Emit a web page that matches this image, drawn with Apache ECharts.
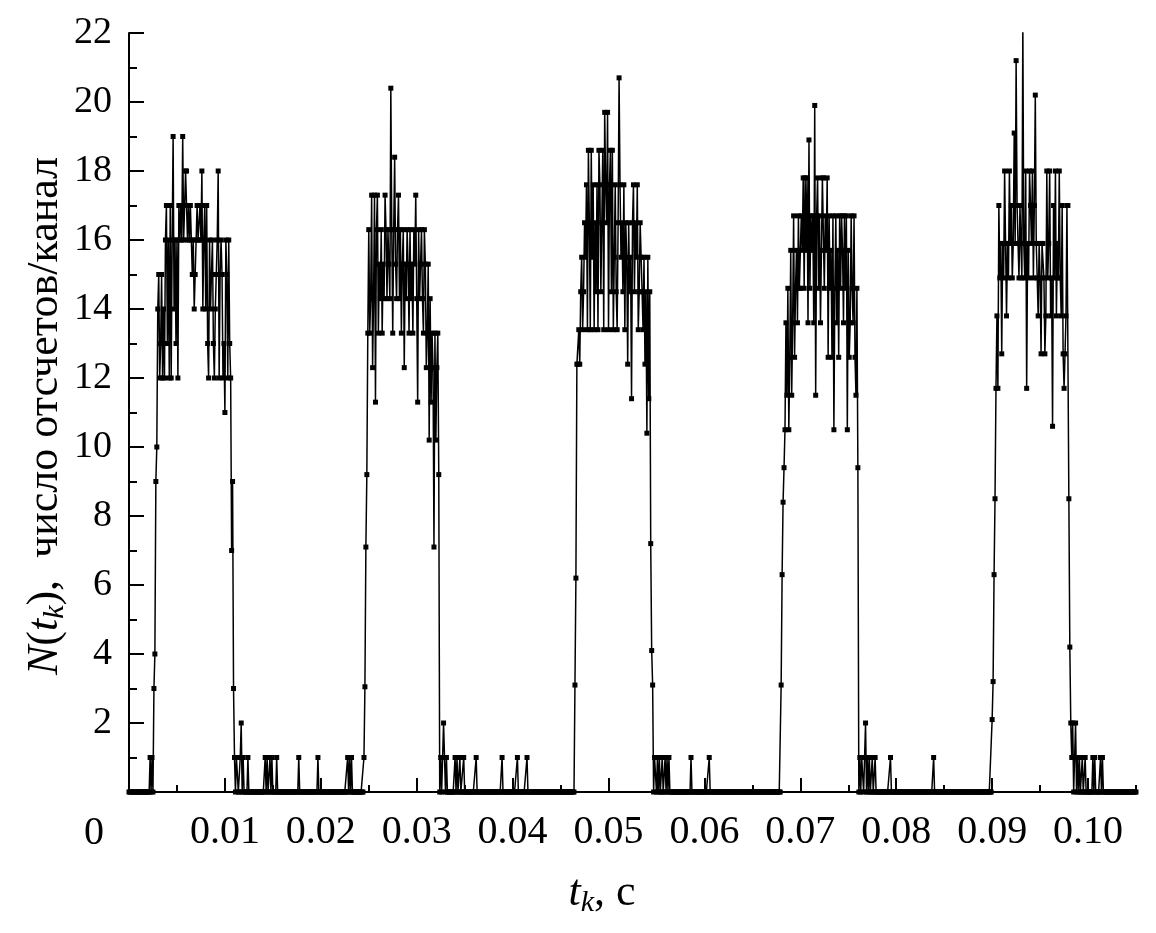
<!DOCTYPE html>
<html>
<head>
<meta charset="utf-8">
<script src="https://cdn.jsdelivr.net/npm/echarts@6/dist/echarts.min.js"></script>
<style>
  html, body { margin: 0; padding: 0; background: #fff; }
  #chart { width: 1156px; height: 933px; }
</style>
</head>
<body>
<div id="chart"></div>
<script>
// sampling step of the counter, s
const dt = 0.0001;
const tMax = 0.105;

// the five bursts, each a run of consecutive samples starting at burstStarts[n]
const burstStarts = [0.0026, 0.0245, 0.0465, 0.0680, 0.0900];

const burst1 = [3, 4, 9, 10, 14, 15, 12, 13, 15, 12, 14, 12, 16, 17, 13,
  16, 12, 17, 12, 16, 19, 14, 16, 13, 16, 12, 17, 16, 17, 16, 19, 16, 17, 18,
  18, 16, 17, 16, 17, 16, 15, 16, 14, 15, 16, 17, 16, 16, 17, 16, 18, 14, 16, 17, 14,
  17, 13, 12, 16, 14, 15, 16, 13, 12, 14, 15, 16, 18, 12, 15,
  16, 15, 12, 13, 11, 16, 15, 12, 16, 13, 12, 7, 9, 3];

const burst2 = [1, 3.05, 7.1, 9.2, 13.3,
  16.3, 13.3, 14.3, 17.3, 12.3, 14.3, 17.3, 11.3, 16.3, 17.3, 13.3, 15.3, 14.3,
  16.3, 13.3, 15.3, 14.3, 17.3, 16.3, 14.3, 16.3, 15.3, 14.3, 20.4, 16.3,
  13.3, 16.3, 18.4, 15.3, 14.3, 16.3, 17.3, 14.3, 16.3, 13.3, 15.3, 16.3,
  12.3, 15.3, 14.3, 16.3, 15.3, 13.3, 16.3, 14.3, 15.3, 13.3, 16.3, 15.3,
  17.3, 14.3, 11.3, 16.3, 14.3, 15.3, 16.3, 14.3, 13.3, 16.3, 15.3, 12.3,
  13.3, 15.3, 10.2, 14.3, 11.3, 13.3, 12.3, 7.1, 13.3, 10.2, 12.3, 13.3, 9.2];

const burst3 = [3.1, 6.2,
  12.4, 12.4, 13.4, 12.4, 14.5, 15.5, 13.4, 14.5, 16.5, 15.5, 17.6, 13.4,
  18.6, 16.5, 13.4, 18.6, 15.5, 17.6, 13.4, 16.5, 14.5, 17.6, 13.4, 18.6,
  17.6, 14.5, 16.5, 18.6, 13.4, 19.7, 17.6, 16.5, 19.7, 13.4, 17.6, 18.6,
  14.5, 18.6, 13.4, 15.5, 17.6, 14.5, 13.4, 16.5, 20.7, 17.6, 15.5, 16.5,
  14.5, 17.6, 13.4, 16.5, 15.5, 12.4, 16.5, 14.5, 15.5, 11.4, 16.5, 17.6,
  14.5, 16.5, 15.5, 17.6, 13.4, 14.5, 16.5, 15.5, 14.5, 13.4, 15.5, 12.4,
  14.5, 10.4, 15.5, 11.4, 14.5, 7.2, 4.1, 3.1];

const burst4 = [3.1, 6.3, 8.4, 9.4, 10.5, 13.6, 11.5, 14.6, 10.5, 12.6,
  15.7, 11.5, 13.6, 16.7, 12.6, 14.6, 15.7, 13.6, 16.7, 14.6,
  14.6, 16.7, 15.7, 17.8, 14.6, 17.8, 15.7, 17.8, 13.6, 18.9, 14.6, 16.7,
  15.7, 16.7, 13.6, 19.9, 11.5, 16.7, 17.8, 14.6, 16.7, 13.6, 15.7, 17.8,
  17.8, 14.6, 16.7, 15.7, 17.8, 12.6, 16.7, 14.6, 15.7, 12.6, 16.7, 10.5,
  14.6, 16.7, 13.6, 15.7, 12.6, 16.7, 14.6, 16.7, 15.7, 13.6, 16.7, 14.6,
  16.7, 10.5, 15.7, 12.6, 13.6, 16.7, 14.6, 13.6, 16.7, 12.6, 11.5, 14.6, 9.4];

const burst5 = [2.1, 3.2, 6.3, 8.5, 11.7,
  13.8, 11.7, 17.0, 14.9, 15.9, 12.7, 15.9, 14.9, 18.0, 15.9, 13.8, 15.9,
  14.9, 18.0, 15.9, 17.0, 14.9, 15.9, 19.1, 15.9, 21.2, 17.0, 15.9, 14.9,
  17.0, 15.9, 14.9, 22.3, 15.9, 14.9, 18.0, 11.7, 15.9, 14.9, 18.0, 17.0,
  15.9, 18.0, 14.9, 17.0, 20.2, 15.9, 14.9, 13.8, 15.9, 14.9, 12.7, 15.9,
  15.9, 14.9, 12.7, 13.8, 18.0, 14.9, 15.9, 18.0, 13.8, 14.9, 10.6, 17.0,
  14.9, 18.0, 13.8, 15.9, 14.9, 18.0,
  14.9, 13.8, 17.0, 12.7, 11.7, 12.7, 13.8, 17.0, 17.0, 8.5, 4.2];

// single counts between bursts: [t, N]
const sparseCounts = [
  [0.0022, 1], [0.0024, 1],
  [0.0110, 1], [0.0112, 1], [0.0113, 1], [0.0116, 1], [0.0117, 2], [0.0119, 1], [0.0124, 1],
  [0.0142, 1], [0.0144, 1], [0.0147, 1], [0.0149, 1], [0.0154, 1],
  [0.0177, 1], [0.0197, 1], [0.0228, 1], [0.0230, 1], [0.0232, 1],
  [0.0325, 1], [0.0327, 1], [0.0328, 2], [0.0329, 1], [0.0331, 1],
  [0.0340, 1], [0.0342, 1], [0.0345, 1], [0.0349, 1],
  [0.0362, 1], [0.0389, 1], [0.0405, 1], [0.0415, 1],
  [0.0548, 1], [0.0549, 1], [0.0551, 1], [0.0553, 1], [0.0556, 1], [0.0559, 1], [0.0561, 1], [0.0563, 1],
  [0.0586, 1], [0.0605, 1],
  [0.0762, 1], [0.0764, 1], [0.0765, 1], [0.0767, 1], [0.0768, 2], [0.0770, 1], [0.0772, 1], [0.0775, 1], [0.0778, 1],
  [0.0794, 1], [0.0839, 1],
  [0.0982, 2], [0.0983, 1], [0.0984, 2], [0.0986, 1], [0.0987, 2], [0.0989, 1], [0.0991, 1], [0.0994, 1], [0.0997, 1],
  [0.1005, 1], [0.1007, 1], [0.1013, 1], [0.1015, 1]
];

// tick labels
const xMajorTicks = [0, 0.01, 0.02, 0.03, 0.04, 0.05, 0.06, 0.07, 0.08, 0.09, 0.10];
const xLabelTicks = [0.01, 0.02, 0.03, 0.04, 0.05, 0.06, 0.07, 0.08, 0.09, 0.10];
const xMinorTicks = [0.005, 0.015, 0.025, 0.035, 0.045, 0.055, 0.065, 0.075, 0.085, 0.095, 0.105];

// every sample of the record; quiet samples read 0
const nSamples = Math.round(tMax / dt) + 1;
const counts = new Array(nSamples).fill(0);
[burst1, burst2, burst3, burst4, burst5].forEach((b, n) => {
  const i0 = Math.round(burstStarts[n] / dt);
  b.forEach((v, k) => { counts[i0 + k] = v; });
});
sparseCounts.forEach(([t, v]) => { counts[Math.round(t / dt)] = v; });
const seriesData = counts.map((v, i) => [+(i * dt).toFixed(4), v]);

const FONT = '"Liberation Serif", "DejaVu Serif", serif';

const chart = echarts.init(document.getElementById('chart'));

const titleRich = {
  i: { fontFamily: FONT, fontStyle: 'italic', fontSize: 44, lineHeight: 50, verticalAlign: 'middle', fill: '#000' },
  s: { fontFamily: FONT, fontStyle: 'italic', fontSize: 30, lineHeight: 18, verticalAlign: 'bottom', fill: '#000' },
  n: { fontFamily: FONT, fontSize: 44, lineHeight: 50, verticalAlign: 'middle', fill: '#000' }
};

chart.setOption({
  animation: false,
  backgroundColor: '#fff',
  grid: { left: 129, right: 20, top: 33, bottom: 141 },
  xAxis: [
    {
      type: 'value',
      min: 0,
      max: tMax,
      interval: 0.01,
      axisLine: { show: true, lineStyle: { color: '#000', width: 2 } },
      axisTick: { show: true, inside: true, length: 14, customValues: xMajorTicks, lineStyle: { color: '#000', width: 2 } },
      axisLabel: {
        show: true,
        customValues: xLabelTicks,
        margin: 20,
        color: '#000',
        fontFamily: FONT,
        fontSize: 40,
        formatter: v => v.toFixed(2)
      },
      splitLine: { show: false }
    },
    {
      type: 'value',
      position: 'bottom',
      min: 0,
      max: tMax,
      interval: 0.005,
      axisLine: { show: false },
      axisTick: { show: true, inside: true, length: 7, customValues: xMinorTicks, lineStyle: { color: '#000', width: 2 } },
      axisLabel: { show: false },
      splitLine: { show: false }
    }
  ],
  yAxis: {
    type: 'value',
    min: 0,
    max: 22,
    interval: 2,
    axisLine: { show: true, lineStyle: { color: '#000', width: 2 } },
    axisTick: { show: true, inside: true, length: 15, lineStyle: { color: '#000', width: 2 } },
    minorTick: { show: true, splitNumber: 2, length: 8, lineStyle: { color: '#000', width: 2 } },
    axisLabel: {
      margin: 17,
      color: '#000',
      fontFamily: FONT,
      fontSize: 38,
      formatter: v => (v === 0 ? '' : String(v))
    },
    splitLine: { show: false }
  },
  graphic: [
    {
      type: 'text',
      left: 84,
      top: 813,
      style: { text: '0', fill: '#000', font: '40px ' + FONT }
    },
    {
      type: 'text',
      x: 602,
      y: 893,
      style: { text: '{i|t}{s|k}{n|, с}', align: 'center', verticalAlign: 'middle', rich: titleRich }
    },
    {
      type: 'text',
      x: 45,
      y: 416,
      rotation: Math.PI / 2,
      style: { text: '{i|N}{n|(}{i|t}{s|k}{n|),  число отсчетов/канал}', align: 'center', verticalAlign: 'middle', rich: titleRich }
    }
  ],
  series: [
    {
      type: 'line',
      xAxisIndex: 0,
      data: seriesData,
      symbol: 'rect',
      symbolSize: 5,
      showSymbol: true,
      clip: true,
      itemStyle: { color: '#000' },
      lineStyle: { color: '#000', width: 1.5 },
      emphasis: { disabled: true }
    }
  ]
});
</script>
</body>
</html>
